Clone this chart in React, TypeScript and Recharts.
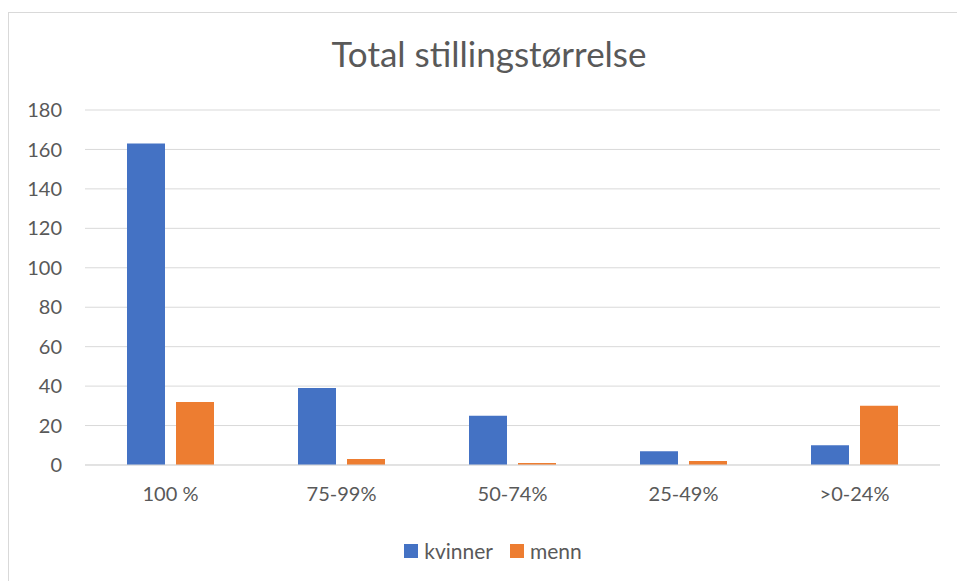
import { Bar, BarChart, CartesianGrid, XAxis, YAxis } from "recharts";

// stillingsstørrelse per kjønn
const kategorier = ["100 %", "75-99%", "50-74%", "25-49%", ">0-24%"];
const kvinner = [163, 39, 25, 7, 10];
const menn = [32, 3, 1, 2, 30];
const yTicks = [0, 20, 40, 60, 80, 100, 120, 140, 160, 180];

const BLA = "#4472C4";
const ORANSJE = "#ED7D31";
const TEKST = "#595959";
const GRID = "#d9d9d9";
const FONT = "Lato, 'Open Sans', sans-serif";

const rows = kategorier.map((k, i) => ({ kategori: k, kvinner: kvinner[i], menn: menn[i] }));

const W = 957;
const H = 581;

export default function App() {
  return (
    <div
      style={{
        position: "absolute",
        left: 0,
        top: 0,
        width: W,
        height: H,
        overflow: "hidden",
        fontFamily: FONT,
        background: "#fff",
      }}
    >
      {/* ramme, bare venstre og topp synes i utsnittet */}
      <div
        style={{
          position: "absolute",
          left: 8,
          top: 12,
          width: W + 20,
          height: H + 20,
          borderLeft: `1px solid ${GRID}`,
          borderTop: `1px solid ${GRID}`,
          boxSizing: "border-box",
        }}
      />
      <div
        style={{
          position: "absolute",
          top: 32,
          left: 0,
          width: 978,
          textAlign: "center",
          fontSize: 35,
          color: TEKST,
        }}
      >
        Total stillingstørrelse
      </div>
      <BarChart
        width={W}
        height={H}
        data={rows}
        margin={{ top: 110, right: 17, left: 0, bottom: 86 }}
        barSize={38}
        barGap={11}
        style={{ position: "absolute", left: 0, top: 0 }}
      >
        <CartesianGrid vertical={false} stroke={GRID} strokeWidth={1} />
        <XAxis
          dataKey="kategori"
          height={30}
          tickLine={false}
          tickSize={0}
          tickMargin={22}
          axisLine={{ stroke: GRID }}
          tick={{ fill: TEKST, fontSize: 20, fontFamily: FONT }}
          interval={0}
        />
        <YAxis
          domain={[0, 180]}
          ticks={yTicks}
          width={85}
          tickLine={false}
          tickSize={0}
          tickMargin={23}
          axisLine={false}
          tick={{ fill: TEKST, fontSize: 20, fontFamily: FONT }}
        />
        <Bar dataKey="kvinner" fill={BLA} isAnimationActive={false} />
        <Bar dataKey="menn" fill={ORANSJE} isAnimationActive={false} />
      </BarChart>
      <div
        style={{
          position: "absolute",
          top: 538,
          left: 0,
          width: 986,
          display: "flex",
          justifyContent: "center",
          gap: 17,
          fontSize: 21,
          color: TEKST,
        }}
      >
        {[
          { navn: "kvinner", farge: BLA },
          { navn: "menn", farge: ORANSJE },
        ].map((s) => (
          <span key={s.navn} style={{ display: "flex", alignItems: "center", gap: 6 }}>
            <span style={{ width: 14, height: 14, background: s.farge, display: "inline-block" }} />
            {s.navn}
          </span>
        ))}
      </div>
    </div>
  );
}
